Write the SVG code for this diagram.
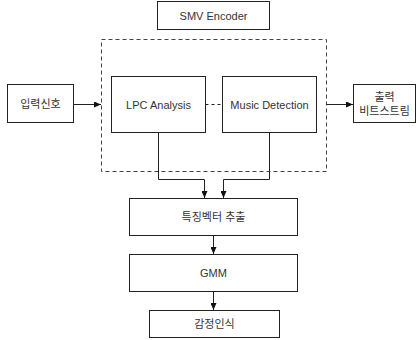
<svg xmlns="http://www.w3.org/2000/svg" width="417" height="340" viewBox="0 0 417 340">
<style>
.box{fill:#fff;stroke:#222;stroke-width:1}
.dash{fill:none;stroke:#444;stroke-width:1;stroke-dasharray:4 3}
.t{font-family:"Liberation Sans","Noto Sans CJK KR",sans-serif;font-size:11px;fill:#333;text-anchor:middle;dominant-baseline:central}
.c{fill:none;stroke:#222;stroke-width:1}
</style>
<defs>
<marker id="ah" markerWidth="7" markerHeight="6" refX="7" refY="3" orient="auto" markerUnits="userSpaceOnUse">
<path d="M0,0 L7,3 L0,6 Z" fill="#111"/>
</marker>
</defs>
<rect width="417" height="340" fill="#fff"/>
<g id="smv-encoder">
<rect class="box" x="157.5" y="1.5" width="112" height="28"/>
<text class="t" x="213.5" y="15.5">SMV Encoder</text>
</g>
<g id="encoder-group">
<rect class="dash" x="101.5" y="39.5" width="225" height="132"/>
</g>
<g id="lpc">
<rect class="box" x="111.5" y="76.5" width="94" height="56"/>
<text class="t" x="158.5" y="104.5">LPC Analysis</text>
</g>
<g id="music">
<rect class="box" x="222.5" y="76.5" width="94" height="56"/>
<text class="t" x="269.5" y="104.5">Music Detection</text>
</g>
<g id="input">
<rect class="box" x="7.5" y="84.5" width="66" height="38"/>
<text class="t" x="40.5" y="104">입력신호</text>
</g>
<g id="output">
<rect class="box" x="353.5" y="84.5" width="62" height="38"/>
<text class="t" x="384.5" y="97">출력</text>
<text class="t" x="384.5" y="111">비트스트림</text>
</g>
<g id="feature">
<rect class="box" x="129.5" y="198.5" width="168" height="37"/>
<text class="t" x="213.5" y="217">특징벡터 추출</text>
</g>
<g id="gmm">
<rect class="box" x="129.5" y="254.5" width="168" height="37"/>
<text class="t" x="213.5" y="273">GMM</text>
</g>
<g id="emotion">
<rect class="box" x="149.5" y="310.5" width="130" height="27"/>
<text class="t" x="214.5" y="324">감정인식</text>
</g>
<g id="connectors">
<line class="c" x1="73.5" y1="104.5" x2="101" y2="104.5" marker-end="url(#ah)"/>
<line class="c" x1="205.5" y1="104.5" x2="222.5" y2="104.5" stroke-dasharray="3 3"/>
<line class="c" x1="326.5" y1="104.5" x2="353" y2="104.5" marker-end="url(#ah)"/>
<path class="c" d="M158.5,132.5 V179.5 H204.5 V198" marker-end="url(#ah)"/>
<path class="c" d="M269.5,132.5 V179.5 H223.5 V198" marker-end="url(#ah)"/>
<line class="c" x1="213.5" y1="235.5" x2="213.5" y2="254" marker-end="url(#ah)"/>
<line class="c" x1="213.5" y1="291.5" x2="213.5" y2="310" marker-end="url(#ah)"/>
</g>
</svg>
